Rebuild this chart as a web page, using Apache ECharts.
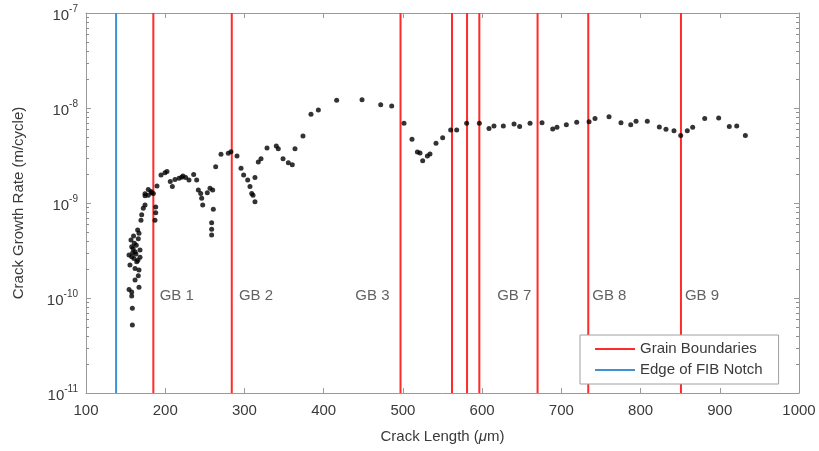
<!DOCTYPE html>
<html>
<head>
<meta charset="utf-8">
<script src="https://cdn.jsdelivr.net/npm/echarts@6/dist/echarts.min.js"></script>
<style>
  html, body { margin: 0; padding: 0; background: #ffffff; }
  #chart { width: 819px; height: 451px; }
</style>
</head>
<body>
<div id="chart"></div>
<script>
// Crack length (µm) and crack growth rate (m/cycle) measurements
const crackLength = [
  154.3, 154.3, 155.5, 156.8, 157.7, 157.7, 157.7, 157.7, 158.5, 158.5,
  158.9, 159.5, 160.0, 160.5, 161.0, 161.9, 161.9, 161.9, 163.1, 163.5,
  164.0, 165.2, 165.5, 166.0, 166.0, 166.9, 166.9, 166.9, 168.2, 168.2,
  169.4, 170.3, 172.3, 174.5, 174.5, 174.5, 178.6, 178.6, 182.0, 182.9,
  185.0, 187.1, 188.0, 188.0, 189.6,
  194.7, 199.7, 202.2, 206.4, 209.0, 212.3, 217.4, 220.8, 222.4, 225.8,
  230.0, 235.9, 239.7, 241.8, 244.8, 246.0, 247.3, 253.1, 256.5, 259.9,
  260.7, 258.6, 258.6, 258.6, 263.7, 270.4, 279.6, 283.0, 290.6, 295.7,
  299.0, 304.1, 307.0, 309.2, 310.8, 313.3, 313.3, 317.5, 320.9, 328.5,
  340.2, 342.7, 348.7, 355.4, 360.4, 363.8, 373.9, 384.0, 393.3, 416.4,
  448.4, 472.0, 485.9, 501.4, 511.5, 518.3, 521.6, 525.0, 530.9, 534.2,
  541.8, 550.2, 560.3, 567.9, 580.5, 596.5, 608.7, 615.0, 626.8, 640.3,
  647.4, 660.5, 675.6, 689.1, 694.5, 706.3, 719.4, 735.0, 742.5, 760.2,
  775.3, 787.6, 794.3, 808.5, 823.7, 832.1, 842.2, 850.7, 859.0, 865.8,
  881.0, 898.6, 912.0, 921.4, 932.3
];
const growthRate = [
  2.84e-10, 1.23e-10, 2.22e-10, 4.08e-10, 3.47e-10, 2.72e-10, 1.16e-10, 1.05e-10, 7.8e-11, 5.2e-11,
  3.0e-10, 3.3e-10, 4.5e-10, 2.6e-10, 3.76e-10, 3.07e-10, 2.05e-10, 1.55e-10, 2.9e-10, 3.6e-10,
  2.41e-10, 5.2e-10, 2.5e-10, 1.71e-10, 4.2e-10, 4.8e-10, 1.97e-10, 1.3e-10, 3.2e-10, 2.68e-10,
  6.6e-10, 7.5e-10, 8.8e-10, 9.5e-10, 1.19e-9, 1.25e-9, 1.21e-9, 1.39e-9, 1.32e-9, 1.28e-9,
  1.26e-9, 6.6e-10, 7.9e-10, 9.1e-10, 1.51e-9,
  1.97e-9, 2.08e-9, 2.14e-9, 1.68e-9, 1.49e-9, 1.77e-9, 1.82e-9, 1.87e-9, 1.92e-9, 1.86e-9,
  1.75e-9, 2.0e-9, 1.75e-9, 1.37e-9, 1.26e-9, 1.12e-9, 9.5e-10, 1.28e-9, 1.43e-9, 1.37e-9,
  8.6e-10, 6.2e-10, 5.3e-10, 4.6e-10, 2.41e-9, 3.26e-9, 3.34e-9, 3.47e-9, 3.13e-9, 2.32e-9,
  1.97e-9, 1.75e-9, 1.49e-9, 1.26e-9, 1.21e-9, 1.03e-9, 1.86e-9, 2.7e-9, 2.93e-9, 3.79e-9,
  3.98e-9, 3.73e-9, 2.93e-9, 2.66e-9, 2.53e-9, 3.73e-9, 5.07e-9, 8.57e-9, 9.5e-9, 1.21e-8,
  1.22e-8, 1.08e-8, 1.05e-8, 6.9e-9, 4.7e-9, 3.44e-9, 3.36e-9, 2.79e-9, 3.13e-9, 3.28e-9,
  4.25e-9, 4.87e-9, 5.87e-9, 5.87e-9, 6.9e-9, 6.9e-9, 6.1e-9, 6.46e-9, 6.46e-9, 6.8e-9,
  6.37e-9, 6.9e-9, 7.0e-9, 6.0e-9, 6.27e-9, 6.68e-9, 7.06e-9, 7.18e-9, 7.73e-9, 8.1e-9,
  7.0e-9, 6.68e-9, 7.24e-9, 7.24e-9, 6.31e-9, 5.97e-9, 5.77e-9, 5.15e-9, 5.77e-9, 6.27e-9,
  7.73e-9, 7.85e-9, 6.37e-9, 6.46e-9, 5.15e-9
];

// Grain boundary positions (µm) and the notch edge
const grainBoundaries = [185, 284, 497, 562, 581, 596.5, 670, 734, 851];
const notchEdge = 138;

// Grain boundary annotations
const gbLabels = ['GB 1', 'GB 2', 'GB 3', 'GB 7', 'GB 8', 'GB 9'];
const gbLabelX = [193, 293, 440, 619, 739, 856];
const gbLabelY = 1.05e-10;

// Axis ranges
const xMin = 100, xMax = 1000, xStep = 100;
const yMin = 1e-11, yMax = 1e-7;

const TEXT = '#3a3a3a';
const FRAME = '#9a9a9a';
const FONT = 'Arial, "Liberation Sans", Helvetica, sans-serif';

// Minor tick values for the log axis: 2..9 × 10^k
const minorTicks = [];
for (let e = -11; e < -7; e++) {
  for (let k = 2; k <= 9; k++) minorTicks.push(k * Math.pow(10, e));
}

const chart = echarts.init(document.getElementById('chart'), null, { renderer: 'canvas' });

const series = [];

grainBoundaries.forEach(function (gx) {
  series.push({
    name: 'Grain Boundaries',
    type: 'line',
    xAxisIndex: 0, yAxisIndex: 0,
    data: [[gx, yMin], [gx, yMax]],
    showSymbol: false,
    symbol: 'none',
    color: '#ff2a2a',
    lineStyle: { color: '#ff2a2a', width: 2 },
    silent: true,
    z: 3
  });
});

series.push({
  name: 'Edge of FIB Notch',
  type: 'line',
  xAxisIndex: 0, yAxisIndex: 0,
  data: [[notchEdge, yMin], [notchEdge, yMax]],
  showSymbol: false,
  symbol: 'none',
  color: '#3d92d6',
  lineStyle: { color: '#3d92d6', width: 2 },
  silent: true,
  z: 3
});

series.push({
  name: 'Crack growth',
  type: 'scatter',
  xAxisIndex: 0, yAxisIndex: 0,
  data: crackLength.map(function (x, i) { return [x, growthRate[i]]; }),
  symbol: 'circle',
  symbolSize: 5,
  itemStyle: { color: '#000000' },
  z: 4
});

series.push({
  name: 'GB labels',
  type: 'scatter',
  xAxisIndex: 0, yAxisIndex: 0,
  data: gbLabels.map(function (t, i) { return { name: t, value: [gbLabelX[i], gbLabelY] }; }),
  symbolSize: 0,
  silent: true,
  label: {
    show: true,
    position: 'right',
    distance: 0,
    formatter: '{b}',
    color: TEXT,
    fontSize: 15,
    fontFamily: FONT
  },
  z: 5
});

// Log-axis minor ticks on the left and right frame edges
series.push({
  name: 'minor ticks',
  type: 'custom',
  coordinateSystem: 'cartesian2d',
  xAxisIndex: 0, yAxisIndex: 0,
  data: minorTicks.map(function (v) { return [xMin + 1, v]; }),
  silent: true,
  clip: false,
  renderItem: function (params, api) {
    const v = api.value(1);
    const l = api.coord([xMin, v]);
    const r = api.coord([xMax, v]);
    const y = Math.round(l[1]) + 0.5;
    return {
      type: 'group',
      children: [
        { type: 'line', shape: { x1: l[0], y1: y, x2: l[0] + 3, y2: y }, style: { stroke: '#8c8c8c', lineWidth: 1 } },
        { type: 'line', shape: { x1: r[0], y1: y, x2: r[0] - 3, y2: y }, style: { stroke: '#8c8c8c', lineWidth: 1 } }
      ]
    };
  },
  z: 6
});

const option = {
  backgroundColor: '#ffffff',
  animation: false,
  grid: { left: 86, right: 20, top: 13, bottom: 58, containLabel: false },
  legend: {
    data: ['Grain Boundaries', 'Edge of FIB Notch'],
    orient: 'vertical',
    left: 580,
    top: 335,
    icon: 'rect',
    itemWidth: 40,
    itemHeight: 2,
    itemGap: 3,
    padding: [5, 16, 5, 15],
    backgroundColor: '#ffffff',
    borderColor: '#a0a0a0',
    borderWidth: 1,
    selectedMode: false,
    textStyle: { color: TEXT, fontSize: 15, fontFamily: FONT, lineHeight: 18 }
  },
  xAxis: [
    {
      type: 'value',
      min: xMin, max: xMax, interval: xStep,
      position: 'bottom',
      name: 'Crack Length ({i|μ}m)',
      nameLocation: 'middle',
      nameGap: 36,
      nameTextStyle: {
        color: TEXT, fontSize: 15, fontFamily: FONT,
        rich: { i: { fontStyle: 'italic', color: TEXT, fontSize: 15, fontFamily: FONT } }
      },
      axisLine: { show: true, onZero: false, lineStyle: { color: FRAME, width: 1 } },
      axisTick: { show: true, inside: true, length: 5, lineStyle: { color: FRAME } },
      axisLabel: {
        color: TEXT, fontSize: 15, fontFamily: FONT, margin: 10,
        formatter: function (v) { return String(v); }
      },
      splitLine: { show: false }
    },
    {
      type: 'value',
      min: xMin, max: xMax, interval: xStep,
      position: 'top',
      axisLine: { show: true, onZero: false, lineStyle: { color: FRAME, width: 1 } },
      axisTick: { show: true, inside: true, length: 5, lineStyle: { color: FRAME } },
      axisLabel: { show: false },
      splitLine: { show: false }
    }
  ],
  yAxis: [
    {
      type: 'log',
      logBase: 10,
      min: yMin, max: yMax,
      position: 'left',
      name: 'Crack Growth Rate (m/cycle)',
      nameLocation: 'middle',
      nameGap: 60,
      nameTextStyle: { color: TEXT, fontSize: 15, fontFamily: FONT },
      axisLine: { show: true, onZero: false, lineStyle: { color: FRAME, width: 1 } },
      axisTick: { show: true, inside: true, length: 5, lineStyle: { color: FRAME } },
      axisLabel: {
        margin: 8,
        formatter: function (v) {
          const e = Math.round(Math.log10(v));
          return '{b|10}{e|' + e + '}';
        },
        rich: {
          b: { color: TEXT, fontSize: 15, fontFamily: FONT, padding: [6, 0, 0, 0] },
          e: { color: TEXT, fontSize: 10, fontFamily: FONT, padding: [0, 0, 8, 0] }
        }
      },
      splitLine: { show: false }
    },
    {
      type: 'log',
      logBase: 10,
      min: yMin, max: yMax,
      position: 'right',
      axisLine: { show: true, onZero: false, lineStyle: { color: FRAME, width: 1 } },
      axisTick: { show: true, inside: true, length: 5, lineStyle: { color: FRAME } },
      axisLabel: { show: false },
      splitLine: { show: false }
    }
  ],
  series: series
};

chart.setOption(option);
</script>
</body>
</html>
